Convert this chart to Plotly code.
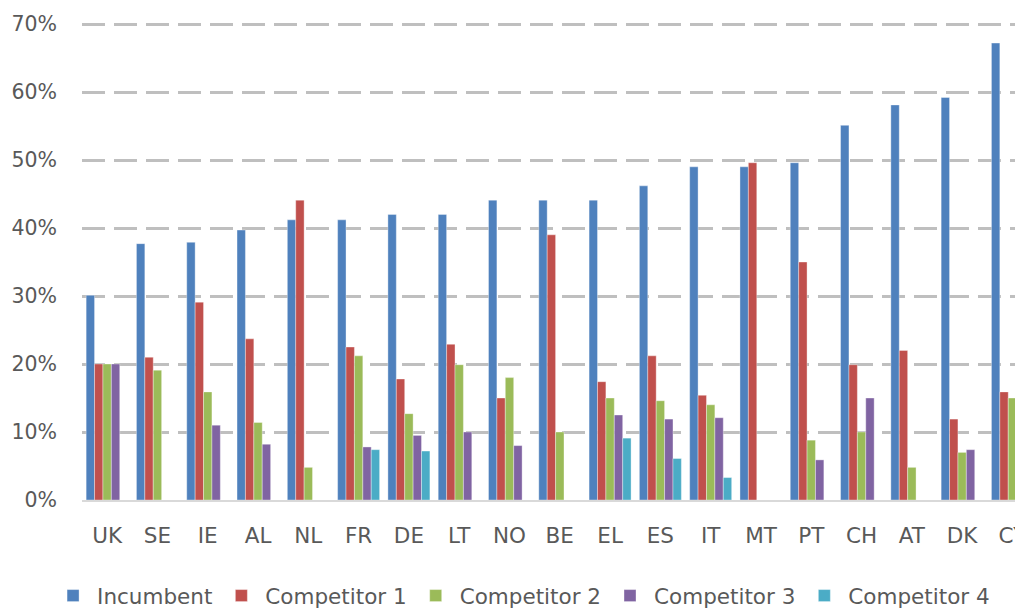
import plotly.graph_objects as go

countries = ["UK", "SE", "IE", "AL", "NL", "FR", "DE", "LT", "NO", "BE",
             "EL", "ES", "IT", "MT", "PT", "CH", "AT", "DK", "CY"]

incumbent = [30.1, 37.7, 37.9, 39.7, 41.2, 41.2, 42.0, 42.0, 44.1, 44.1,
             44.1, 46.2, 49.0, 49.0, 49.6, 55.1, 58.1, 59.2, 67.2]
competitor1 = [20.0, 21.0, 29.1, 23.7, 44.1, 22.5, 17.8, 22.9, 15.0, 39.0,
               17.4, 21.2, 15.4, 49.6, 35.0, 19.9, 22.0, 11.9, 15.9]
competitor2 = [20.0, 19.1, 15.9, 11.4, 4.8, 21.2, 12.7, 19.9, 18.0, 10.0,
               15.0, 14.6, 14.0, 0, 8.8, 10.0, 4.8, 7.0, 15.0]
competitor3 = [20.0, 0, 11.0, 8.2, 0, 7.8, 9.5, 10.0, 8.0, 0,
               12.5, 11.9, 12.1, 0, 5.9, 15.0, 0, 7.4, 0]
competitor4 = [0, 0, 0, 0, 0, 7.4, 7.2, 0, 0, 0,
               9.1, 6.1, 3.3, 0, 0, 0, 0, 0, 0]

series_names = ["Incumbent", "Competitor 1", "Competitor 2", "Competitor 3", "Competitor 4"]
series_values = [incumbent, competitor1, competitor2, competitor3, competitor4]
series_colors = ["#4F81BD", "#C0504D", "#9BBB59", "#8064A2", "#4BACC6"]

y_ticks = [0, 10, 20, 30, 40, 50, 60, 70]
y_tick_labels = ["0%", "10%", "20%", "30%", "40%", "50%", "60%", "70%"]

FONT = "DejaVu Sans, Liberation Sans, sans-serif"

fig = go.Figure()
for name, vals, col in zip(series_names, series_values, series_colors):
    fig.add_trace(go.Bar(
        x=countries, y=vals, name=name,
        marker=dict(color=col, line=dict(color="rgba(255,255,255,0.6)", width=0.6)),
    ))

# page body has an 8px margin, so the figure is 8px smaller than the window
fig.update_layout(
    width=1015, height=600,
    margin=dict(l=74, r=0, t=14, b=108, pad=0, autoexpand=False),
    paper_bgcolor="white", plot_bgcolor="white",
    barmode="group", bargap=0.165, bargroupgap=0,
    font=dict(family=FONT, color="#595959", size=21),
    showlegend=True,
    legend=dict(
        orientation="h", x=-0.035, xanchor="left", y=-0.2, yanchor="middle",
        font=dict(family=FONT, size=21.5, color="#595959"),
        itemwidth=38, traceorder="normal",
    ),
)

fig.update_xaxes(
    type="category", range=[-0.5, 18.21], automargin=False,
    showgrid=False, zeroline=False,
    showline=True, linecolor="#D9D9D9", linewidth=1.5,
    ticks="", ticklabelstandoff=15,
    tickfont=dict(family=FONT, size=21.5, color="#595959"),
)
fig.update_yaxes(
    range=[0, 70.3], tickvals=y_ticks, ticktext=y_tick_labels, automargin=False,
    showgrid=True, gridcolor="#BFBFBF", gridwidth=2.6, griddash="23px,9px",
    zeroline=False, showline=False, ticks="", ticklabelstandoff=24,
    tickfont=dict(family=FONT, size=20.5, color="#595959"),
)

fig.write_html("out.html")
